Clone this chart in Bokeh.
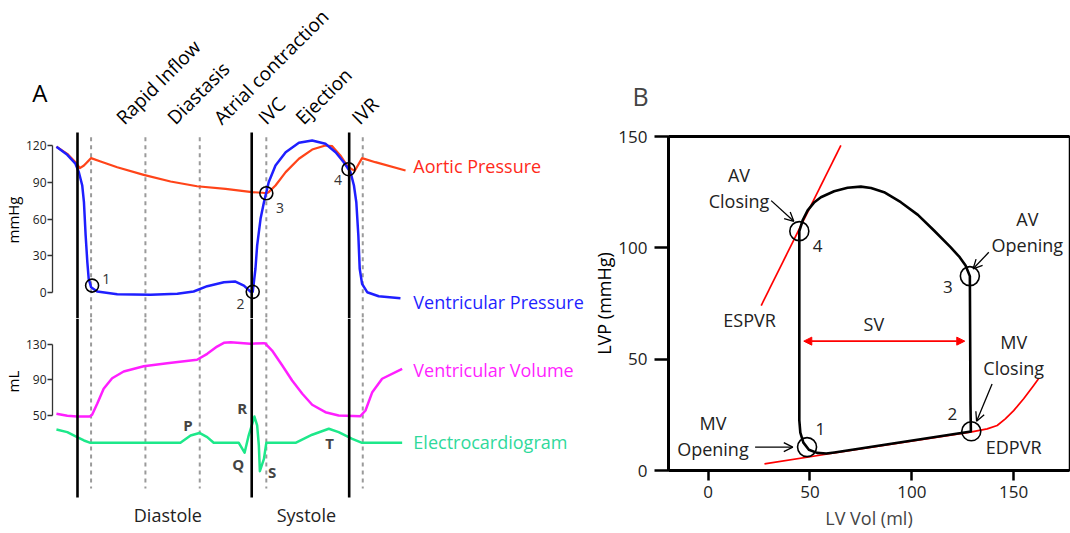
import math
from bokeh.plotting import figure
from bokeh.layouts import row, column
from bokeh.models import Range1d, FixedTicker, Title, Arrow, OpenHead, NormalHead, LinearAxis
from bokeh.core.properties import value
from bokeh.embed import file_html
from bokeh.resources import INLINE

FONT = "Open Sans"

# ---------------- Panel A: one cardiac cycle (time in seconds) ----------------
aortic_t = [-0.062, -0.030, -0.006, 0.007, 0.019, 0.040, 0.068, 0.117, 0.195, 0.274, 0.352,
            0.436, 0.514, 0.544, 0.556, 0.563, 0.583, 0.613, 0.652, 0.691, 0.730, 0.750,
            0.774, 0.794, 0.809, 0.817, 0.838, 0.877, 0.966]
aortic_p = [119.0, 113.2, 106.4, 101.5, 103.7, 109.7, 107.0, 102.3, 96.1, 90.7, 86.8,
            84.7, 82.0, 81.5, 81.1, 82.0, 87.4, 98.3, 109.2, 116.7, 120.0, 119.4,
            111.9, 103.7, 100.4, 99.6, 109.7, 106.4, 99.6]

lv_t = [-0.062, -0.030, -0.006, 0.004, 0.014, 0.019, 0.024, 0.029, 0.033, 0.040, 0.058,
        0.117, 0.215, 0.294, 0.342, 0.382, 0.431, 0.465, 0.490, 0.509, 0.516, 0.524,
        0.529, 0.539, 0.549, 0.563, 0.583, 0.613, 0.652, 0.691, 0.730, 0.760, 0.784,
        0.804, 0.814, 0.821, 0.827, 0.831, 0.838, 0.853, 0.887, 0.951]
lv_p = [119.0, 112.4, 105.1, 98.2, 87.4, 73.8, 46.7, 24.9, 11.4, 4.6, 1.1,
        -1.1, -1.6, -0.8, 1.1, 5.4, 8.6, 9.2, 5.9, 1.1, 0.8, 19.6,
        38.5, 60.3, 73.8, 90.1, 103.7, 114.5, 122.2, 124.1, 121.4, 114.5, 106.4,
        98.2, 87.4, 73.8, 46.7, 19.6, 7.3, 0.5, -2.8, -4.4]

vol_t = [-0.062, -0.030, -0.001, 0.036, 0.043, 0.058, 0.077, 0.102, 0.136, 0.195, 0.264,
         0.352, 0.382, 0.411, 0.431, 0.451, 0.509, 0.549, 0.554, 0.573, 0.603, 0.632,
         0.662, 0.691, 0.730, 0.769, 0.833, 0.848, 0.868, 0.897, 0.956]
vol_ml = [51.9, 49.7, 48.9, 48.9, 50.8, 63.2, 80.1, 92.0, 99.6, 105.5, 108.9,
          112.8, 119.5, 127.7, 131.9, 132.6, 130.8, 131.5, 130.8, 123.2, 106.3, 89.4,
          74.5, 62.1, 53.7, 50.0, 49.2, 55.6, 76.3, 91.4, 102.6]

ecg_t = [-0.062, -0.030, -0.001, 0.019, 0.038, 0.303, 0.333, 0.359, 0.382, 0.401, 0.475,
         0.492, 0.504, 0.521, 0.529, 0.534, 0.537, 0.549, 0.556, 0.642, 0.691, 0.740,
         0.769, 0.809, 0.838, 0.956]
ecg_mv = [0.51, 0.41, 0.22, 0.09, 0.0, 0.0, 0.28, 0.38, 0.22, 0.0, 0.0,
          -0.38, 0.28, 1.01, 0.67, -0.10, -1.09, -0.62, 0.0, 0.0, 0.31, 0.54,
          0.41, 0.15, 0.0, 0.0]

valve_t = [0.0, 0.513, 0.800]                   # solid markers: valve closures
phase_t = [0.040, 0.200, 0.360, 0.556, 0.840]   # dashed markers: phase boundaries
phase_names = ["Rapid Inflow", "Diastasis", "Atrial contraction", "IVC", "Ejection", "IVR"]
phase_label_t = [0.124, 0.274, 0.411, 0.542, 0.652, 0.817]

event_t = [0.043, 0.516, 0.556, 0.798]
event_p = [5.9, 0.8, 81.1, 100.7]
event_num = ["1", "2", "3", "4"]
event_num_t = [0.085, 0.480, 0.596, 0.767]
event_num_p = [11.4, -9.0, 69.2, 91.5]

ecg_wave_names = ["P", "Q", "R", "S", "T"]
ecg_wave_t = [0.325, 0.473, 0.485, 0.573, 0.742]
ecg_wave_mv = [0.70, -0.83, 1.35, -1.13, -0.02]

period_names = ["Diastole", "Systole"]
period_t = [0.266, 0.674]

# ---------------- Panel B: pressure-volume loop ----------------
loop_vol = [44.8, 45.3, 46.8, 49.5, 53.5, 58.0, 62.0, 129.0, 128.8, 128.5, 126.4, 123.5,
            119.0, 110.9, 103.0, 94.6, 86.4, 80.0, 75.0, 68.5, 61.9, 55.4, 52.2, 48.9,
            46.5, 44.8, 44.8]
loop_p = [22.5, 17.0, 12.5, 9.3, 7.9, 7.6, 8.1, 17.5, 30.0, 87.3, 92.1, 95.8,
          100.3, 107.8, 114.8, 120.5, 125.0, 126.9, 127.5, 127.0, 125.4, 122.7, 120.5, 116.8,
          112.5, 107.5, 22.5]

espvr_vol = [26.1, 65.2]
espvr_p = [74.1, 146.0]

edpvr_vol = [27.7, 58.7, 128.8, 137.0, 141.9, 145.9, 150.0, 154.9, 159.8, 162.2]
edpvr_p = [3.0, 7.4, 17.2, 18.7, 20.2, 23.2, 26.9, 32.2, 38.2, 41.2]

pv_point_vol = [48.6, 129.2, 128.5, 44.8]
pv_point_p = [10.5, 17.6, 87.3, 107.5]
pv_num = ["1", "2", "3", "4"]
pv_num_vol = [55.1, 119.9, 117.7, 53.8]
pv_num_p = [18.7, 25.5, 82.3, 101.0]

sv_vol = [47.0, 126.0]
sv_p = 58.1

notes = ["AV\nClosing", "AV\nOpening", "MV\nClosing", "MV\nOpening", "ESPVR", "EDPVR", "SV"]
note_vol = [15.2, 156.7, 150.0, 2.4, 20.4, 150.0, 81.4]
note_p = [127.0, 107.0, 52.0, 15.5, 67.4, 10.5, 66.0]

pointer_from_vol = [31.0, 137.8, 139.4, 23.1]
pointer_from_p = [121.2, 98.0, 38.9, 10.5]
pointer_to_vol = [42.1, 130.1, 131.8, 41.6]
pointer_to_p = [111.9, 90.6, 22.1, 10.5]

# ---------------- colours ----------------
C_AORTIC, C_AORTIC_TXT = "#ff4419", "#ff2a1a"
C_LV = "#1f1fff"
C_VOL = "#ff1fff"
C_ECG, C_ECG_TXT = "#1de88a", "#2fd99b"


def style_axis(ax, ticks, tick_size, tick_out, line_width, color):
    ax.ticker = FixedTicker(ticks=ticks)
    ax.major_label_text_font = FONT
    ax.major_label_text_font_size = tick_size
    ax.major_label_text_color = "#222222"
    ax.minor_tick_line_color = None
    ax.major_tick_in = 0
    ax.major_tick_out = tick_out
    ax.axis_line_width = line_width
    ax.axis_line_color = color
    ax.major_tick_line_width = line_width
    ax.major_tick_line_color = color


def side_title(fig, text, size, align, offset):
    fig.add_layout(Title(text=text, align=align, offset=offset, standoff=0,
                         text_font=FONT, text_font_size=size, text_font_style="normal",
                         text_color="black"), "left")


def bare_figure(width, height, x_range, y_range):
    fig = figure(width=width, height=height, x_range=x_range, y_range=y_range,
                 output_backend="svg", toolbar_location=None, title_location=None,
                 x_axis_location=None, min_border_left=50, min_border_right=0,
                 min_border_top=0, min_border_bottom=0, outline_line_color=None)
    fig.grid.visible = False
    return fig


A_WIDTH = 588
# the three panel-A plots share one time axis (their frames line up in the column)
t_range = Range1d(-0.0736, 1.5047)

# ---------- Panel A, header strip: panel letter and phase names ----------
ph = bare_figure(A_WIDTH, 130, t_range, Range1d(132.2, 238.1))
ax = ph.yaxis[0]
ax.ticker = FixedTicker(ticks=[163])
ax.major_label_overrides = {163: "A"}
ax.major_label_text_font = FONT
ax.major_label_text_font_size = "24px"
ax.major_label_text_color = "black"
ax.major_label_standoff = 5
ax.major_tick_out = 0
ax.major_tick_in = 0
ax.major_tick_line_color = None
ax.minor_tick_line_color = None
ax.axis_line_color = None
ph.text(phase_label_t, 140.0, text=phase_names, angle=math.pi / 4,
        text_font=value(FONT), text_font_size="19px", text_color="black",
        text_align="left", text_baseline="alphabetic")

# ---------- Panel A, pressure part ----------
pa = bare_figure(A_WIDTH, 188, t_range, Range1d(-20.9, 132.2))
ax = pa.yaxis[0]
style_axis(ax, [0, 30, 60, 90, 120], "12px", 5, 1.3, "#333333")
ax.bounds = (0, 120)
ax.major_label_standoff = 1
side_title(pa, "mmHg", "15px", "left", 75)

pa.segment(x0=phase_t, y0=126.8, x1=phase_t, y1=pa.y_range.start,
           line_color="#9a9a9a", line_width=2, line_dash="4 4")
pa.line(aortic_t, aortic_p, line_color=C_AORTIC, line_width=2.2, line_join="round")
pa.line(lv_t, lv_p, line_color=C_LV, line_width=2.5, line_join="round")
pa.segment(x0=valve_t, y0=130.6, x1=valve_t, y1=pa.y_range.start,
           line_color="black", line_width=2.6)
pa.scatter(event_t, event_p, marker="circle", size=13, fill_color=None,
           line_color="black", line_width=1.6)
pa.text(event_num_t, event_num_p, text=event_num, text_font=value(FONT),
        text_font_size="14px", text_color="#333333", text_align="center",
        text_baseline="middle")
pa.text([0.989, 0.989], [102.9, -7.1], text=["Aortic Pressure", "Ventricular Pressure"],
        text_color=[C_AORTIC_TXT, C_LV], text_font=value(FONT), text_font_size="18px",
        text_align="left", text_baseline="middle")

# ---------- Panel A, volume and ECG part ----------
pv = bare_figure(A_WIDTH, 215, t_range, Range1d(-83.0, 159.3))
pv.extra_y_ranges = {"ecg": Range1d(-3.488, 4.781)}
ax = pv.yaxis[0]
style_axis(ax, [50, 90, 130], "12px", 5, 1.3, "#333333")
ax.bounds = (50, 130)
ax.major_label_standoff = 1
side_title(pv, "mL", "15px", "left", 141)

pv.segment(x0=phase_t, y0=pv.y_range.end, x1=phase_t, y1=-32.3,
           line_color="#9a9a9a", line_width=2, line_dash="4 4")
pv.line(vol_t, vol_ml, line_color=C_VOL, line_width=2.5, line_join="round")
pv.line(ecg_t, ecg_mv, y_range_name="ecg", line_color=C_ECG, line_width=2.5,
        line_join="round")
pv.segment(x0=valve_t, y0=pv.y_range.end, x1=valve_t, y1=-42.4,
           line_color="black", line_width=2.6)
pv.text(ecg_wave_t, ecg_wave_mv, y_range_name="ecg", text=ecg_wave_names,
        text_font=value(FONT), text_font_size="15px", text_font_style="bold",
        text_color="#444444", text_align="center", text_baseline="middle")
pv.text([0.989], [100.7], text=["Ventricular Volume"], text_color=C_VOL,
        text_font=value(FONT), text_font_size="18px", text_align="left",
        text_baseline="middle")
pv.text([0.989], [0.05], y_range_name="ecg", text=["Electrocardiogram"], text_color=C_ECG_TXT,
        text_font=value(FONT), text_font_size="18px", text_align="left",
        text_baseline="middle")
pv.text(period_t, -62.3, text=period_names, text_font=value(FONT), text_font_size="18px",
        text_color="#222222", text_align="center", text_baseline="alphabetic")

# ---------- Panel B: PV loop ----------
pb = figure(width=1070 - A_WIDTH, height=533, x_range=Range1d(-19.4, 177.4),
            y_range=Range1d(0, 150), output_backend="svg", toolbar_location=None, title="B",
            min_border_left=80, min_border_right=1, min_border_top=136, min_border_bottom=63,
            outline_line_color="black", outline_line_width=1.5)
pb.title.align = "left"
pb.title.offset = -36
pb.title.standoff = 48
pb.title.text_font = FONT
pb.title.text_font_size = "25px"
pb.title.text_font_style = "normal"
pb.grid.visible = False
style_axis(pb.yaxis[0], [0, 50, 100, 150], "17px", 14, 3, "black")
pb.yaxis[0].major_tick_line_width = 2.5
pb.yaxis[0].major_label_standoff = 7
side_title(pb, "LVP (mmHg)", "18px", "center", 0)
style_axis(pb.xaxis[0], [0, 50, 100, 150], "17px", 10, 3, "black")
pb.xaxis[0].major_tick_line_width = 2.5
pb.xaxis[0].major_label_standoff = 5
pb.xaxis[0].axis_label = "LV Vol (ml)"
pb.xaxis[0].axis_label_text_font = FONT
pb.xaxis[0].axis_label_text_font_style = "normal"
pb.xaxis[0].axis_label_text_font_size = "18px"
pb.xaxis[0].axis_label_standoff = 5
pb.add_layout(LinearAxis(ticker=FixedTicker(ticks=[]), axis_line_width=3,
                         axis_line_color="black", major_tick_line_color=None,
                         minor_tick_line_color=None, major_tick_out=0,
                         major_label_standoff=0), "above")

pb.line(espvr_vol, espvr_p, line_color="#ff0000", line_width=1.7)
pb.line(edpvr_vol, edpvr_p, line_color="#ff0000", line_width=1.7, line_join="round")
pb.line(loop_vol, loop_p, line_color="black", line_width=2.6, line_join="round")
pb.scatter(pv_point_vol, pv_point_p, marker="circle", size=19, fill_color=None,
           line_color="black", line_width=1.6)
pb.text(pv_num_vol, pv_num_p, text=pv_num, text_font=value(FONT), text_font_size="17px",
        text_color="#222222", text_align="center", text_baseline="middle")
pb.text(note_vol, note_p, text=notes, text_font=value(FONT), text_font_size="18px",
        text_color="#222222", text_align="center", text_baseline="middle",
        text_line_height=1.1)
pb.add_layout(Arrow(start=NormalHead(size=8, fill_color="#ff0000", line_color="#ff0000"),
                    end=NormalHead(size=8, fill_color="#ff0000", line_color="#ff0000"),
                    x_start=sv_vol[0], y_start=sv_p, x_end=sv_vol[1], y_end=sv_p,
                    line_color="#ff0000", line_width=1.7))
for xs, ys, xe, ye in zip(pointer_from_vol, pointer_from_p, pointer_to_vol, pointer_to_p):
    pb.add_layout(Arrow(end=OpenHead(size=9, line_width=1.3, line_color="black"),
                        x_start=xs, y_start=ys, x_end=xe, y_end=ye,
                        line_color="black", line_width=1.3))

page = row(column(ph, pa, pv), pb)
open("out.html", "w").write(file_html(page, INLINE))
